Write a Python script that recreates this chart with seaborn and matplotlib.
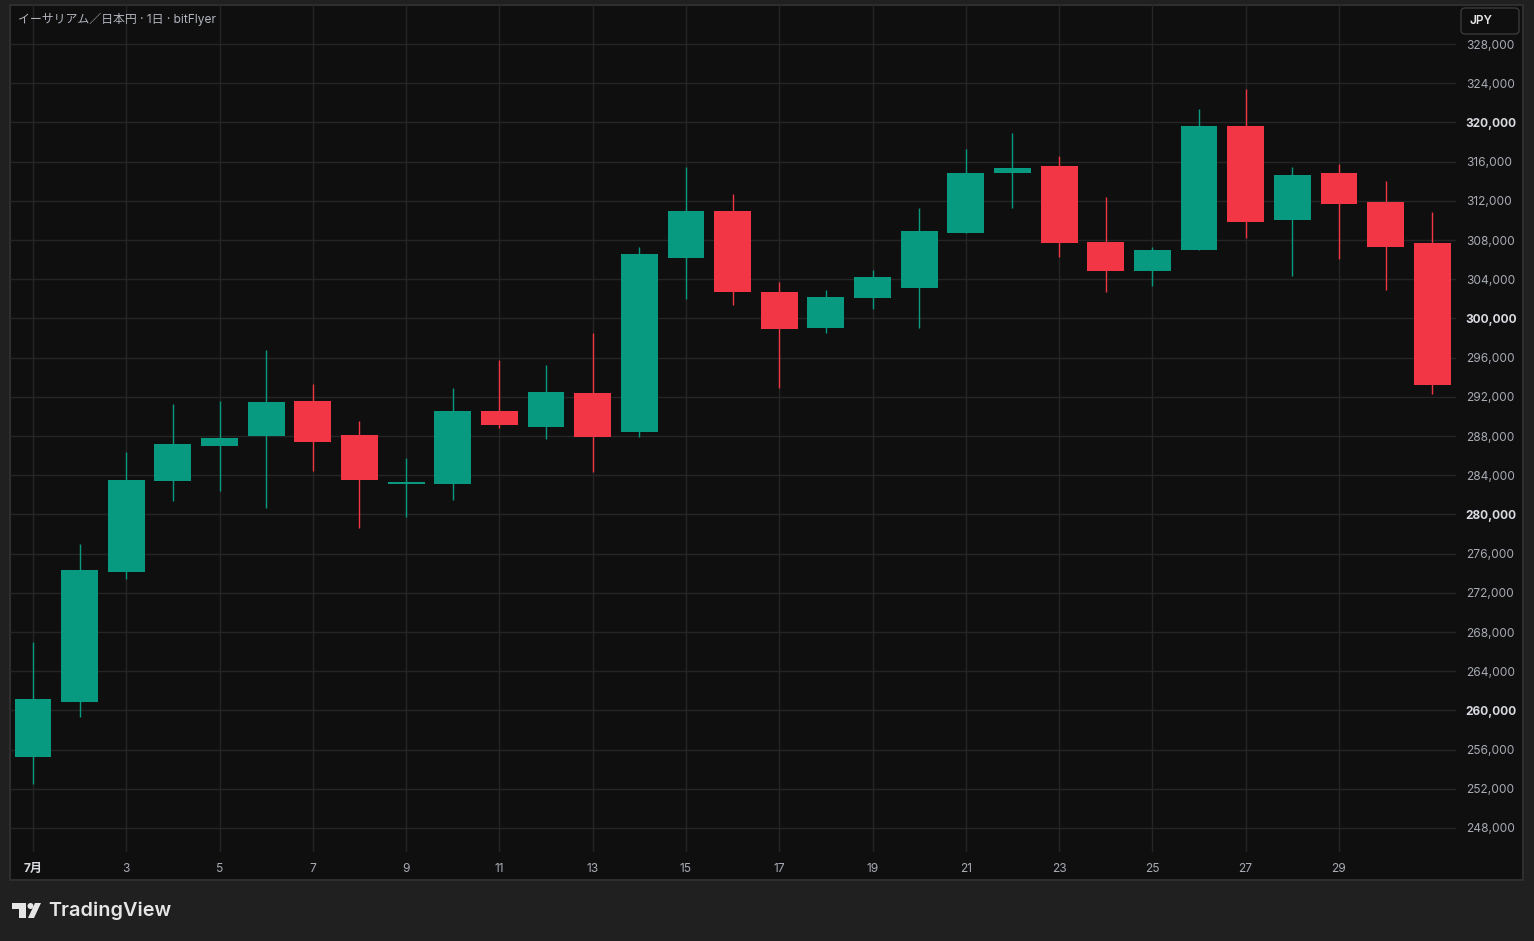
import matplotlib
matplotlib.use("Agg")
import matplotlib.pyplot as plt
import seaborn as sns
import pandas as pd
from matplotlib.patches import Rectangle, FancyBboxPatch, Polygon, Circle
from matplotlib.transforms import IdentityTransform

# ETH/JPY daily, July (bitFlyer)
days = list(range(1, 32))
open_ = [255280, 260890, 274150, 283440, 287010, 288000, 291570, 288100, 283150, 283130,
         290550, 288950, 292390, 288440, 306190, 310960, 302690, 299050, 302110, 303130,
         308750, 314870, 315550, 307800, 304870, 307010, 319630, 310070, 314840, 311880,
         307690]
high = [266980, 276980, 286340, 291270, 291570, 296780, 293310, 289530, 285760, 292900,
        295760, 295250, 298510, 307290, 315450, 312690, 303710, 302900, 304940, 311270,
        317290, 318920, 316570, 312390, 307290, 321370, 323410, 315450, 315760, 314020,
        310860]
low = [252490, 259360, 273380, 281400, 282420, 280680, 284460, 278640, 279740, 281500,
       288850, 287730, 284360, 287930, 302010, 301400, 292930, 298540, 300990, 299050,
       308700, 311300, 306300, 302720, 303340, 306950, 308240, 304360, 306090, 302930,
       292260]
close = [261160, 274330, 283510, 287180, 287800, 291470, 287390, 283540, 283350, 290550,
         289150, 292490, 287930, 306570, 310960, 302720, 298950, 302180, 304220, 308920,
         314840, 315350, 307730, 304870, 306980, 319630, 309870, 314630, 311700, 307320,
         293170]

xtick_days = list(range(1, 30, 2))
xtick_labels = ["7月"] + [str(d) for d in xtick_days[1:]]
ytick_vals = list(range(248000, 328001, 4000))
bold_ticks = [260000, 280000, 300000, 320000]

title = "イーサリアム／日本円 · 1日 · bitFlyer"

df = pd.DataFrame({"day": days, "open": open_, "high": high, "low": low, "close": close})
df["up"] = df["close"] >= df["open"]
df["bottom"] = df[["open", "close"]].min(axis=1)
df["height"] = (df["close"] - df["open"]).abs().clip(lower=120)

GREEN = "#089981"
RED = "#f23645"
df["color"] = df["up"].map({True: GREEN, False: RED})

sns.set_theme(style="dark")
plt.rcParams["font.family"] = ["Inter", "Noto Sans CJK JP", "DejaVu Sans"]

W, H = 1534, 941
fig = plt.figure(figsize=(W / 100, H / 100), dpi=100)
fig.patch.set_facecolor("#202020")

px = IdentityTransform()
# chart panel
fig.add_artist(Rectangle((10, H - 880), 1513, 875, transform=px,
                         facecolor="#0f0f0f", edgecolor="#2e2e2e", lw=1.5, zorder=0))

ax = fig.add_axes([10 / W, 1 - 852 / H, (1456 - 10) / W, (852 - 5) / H])
ax.set_facecolor("none")
for s in ax.spines.values():
    s.set_visible(False)

ax.set_xlim(0.507, 31.51)
ax.set_ylim(245551, 331980)

# grid
ax.set_xticks(xtick_days)
ax.set_xticklabels(xtick_labels)
ax.set_yticks(ytick_vals)
ax.set_yticklabels([f"{v:,}" for v in ytick_vals])
ax.grid(True, color="#252525", lw=1)
ax.set_axisbelow(True)
ax.yaxis.tick_right()
ax.tick_params(axis="both", length=0, colors="#a8abb3", labelsize=8.6)
ax.tick_params(axis="y", pad=7)
ax.tick_params(axis="x", pad=8)

for lab, v in zip(ax.get_yticklabels(), ytick_vals):
    if v in bold_ticks:
        lab.set_fontweight("bold")
        lab.set_color("#d8dae0")
ax.get_xticklabels()[0].set_fontweight("bold")
ax.get_xticklabels()[0].set_color("#d8dae0")

# candles
ax.vlines(df["day"], df["low"], df["high"], colors=df["color"], lw=1, zorder=2)
ax.bar(df["day"], df["height"], bottom=df["bottom"], width=0.79,
       color=df["color"], linewidth=0, zorder=3)

# header text
fig.text(18 / W, 1 - 19 / H, title, color="#b2b5be", fontsize=8.6, va="center", ha="left",
         family=["Inter", "Noto Sans CJK JP", "DejaVu Sans"])

# currency box
fig.add_artist(FancyBboxPatch((1461, H - 34), 58, 26, transform=px,
                              boxstyle="round,pad=0,rounding_size=4",
                              facecolor="#0f0f0f", edgecolor="#3a3a3a", lw=1, zorder=5))
fig.text(1469 / W, 1 - 21 / H, "JPY", color="#e6e6e6", fontsize=8.5, weight="semibold",
         va="center", ha="left", zorder=6)

# TradingView logo
logo = "#e6e6e6"
fig.add_artist(Polygon([(12, H - 903), (26, H - 903), (26, H - 918), (19, H - 918),
                        (19, H - 909), (12, H - 909)], closed=True, transform=px,
                       facecolor=logo, edgecolor="none"))
fig.add_artist(Circle((30.5, H - 906), 3, transform=px, facecolor=logo, edgecolor="none"))
fig.add_artist(Polygon([(35, H - 903), (41, H - 903), (34, H - 918), (28, H - 918)],
                       closed=True, transform=px, facecolor=logo, edgecolor="none"))
fig.text(48 / W, 1 - 911 / H, "TradingView", color=logo, fontsize=14.3, weight="semibold",
         va="center", ha="left")

fig.savefig("out.png", dpi=100, facecolor=fig.get_facecolor())
